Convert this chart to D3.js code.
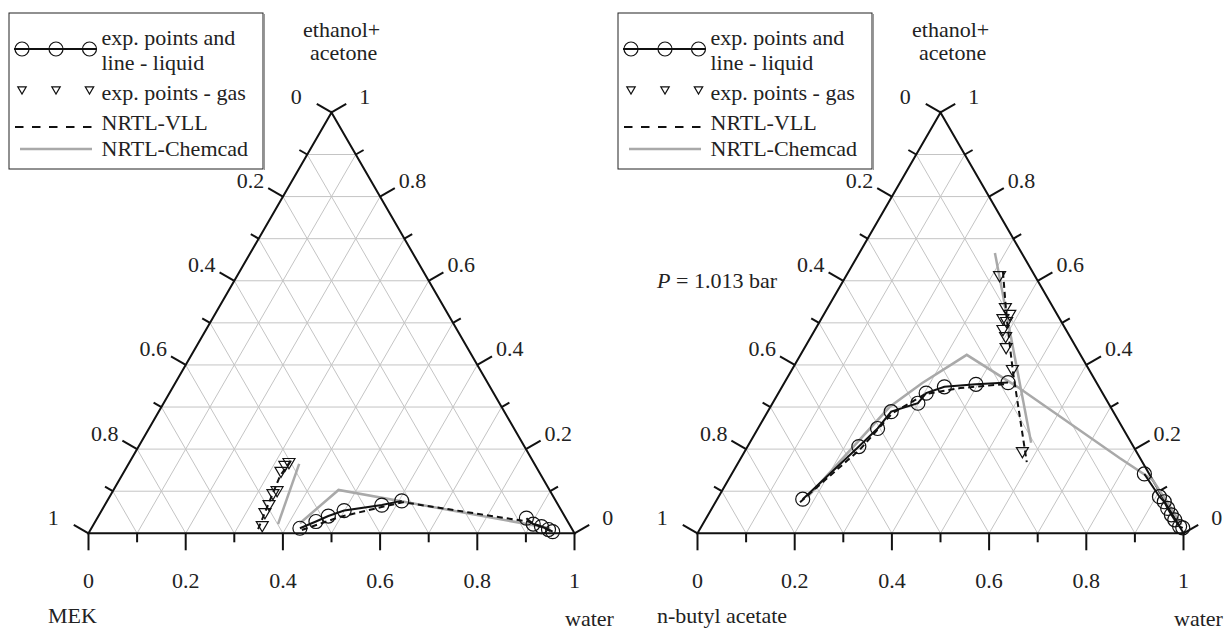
<!DOCTYPE html>
<html>
<head>
<meta charset="utf-8">
<script src="https://cdn.jsdelivr.net/npm/d3@7"></script>
<style>
  html, body { margin: 0; padding: 0; background: #fff; }
</style>
</head>
<body>
<div class="chart"></div>
<script>
// ternary data: [water, ethanol+acetone], third component = 1 - sum
const tickValues = d3.range(0, 11).map(i => i / 10);

// MEK system
const mekLiquidOrg = [[0.429, 0.012], [0.454, 0.028], [0.473, 0.041], [0.499, 0.054], [0.570, 0.067], [0.606, 0.077]];
const mekLiquidAq = [[0.883, 0.036], [0.904, 0.022], [0.924, 0.016], [0.942, 0.009], [0.953, 0.004]];
const mekGas = [[0.349, 0.017], [0.339, 0.048], [0.338, 0.067], [0.333, 0.093], [0.338, 0.100], [0.323, 0.146], [0.324, 0.160], [0.329, 0.167]];
const mekVllLiquid = [[0.435, 0.008], [0.498, 0.039], [0.574, 0.063], [0.610, 0.074], [0.895, 0.027], [0.954, 0.003]];
const mekVllGas = [[0.344, 0.010], [0.334, 0.079], [0.326, 0.136], [0.330, 0.174]];
const mekChemLiquid = [[0.423, 0.024], [0.463, 0.103], [0.944, 0.012]];
const mekChemGas = [[0.379, 0.022], [0.351, 0.165]];

// n-butyl acetate system
const nbaLiquidOrg = [[0.176, 0.081], [0.229, 0.206], [0.246, 0.249], [0.254, 0.289], [0.299, 0.309], [0.304, 0.333], [0.334, 0.348], [0.396, 0.354], [0.460, 0.358]];
const nbaLiquidAq = [[0.849, 0.141], [0.907, 0.087], [0.923, 0.075], [0.938, 0.059], [0.953, 0.044], [0.966, 0.032], [0.984, 0.016], [0.992, 0.013]];
const nbaGas = [[0.316, 0.611], [0.366, 0.535], [0.383, 0.519], [0.374, 0.509], [0.385, 0.502], [0.387, 0.483], [0.401, 0.466], [0.415, 0.440], [0.454, 0.388], [0.572, 0.193]];
const nbaVllLiquid = [[0.174, 0.074], [0.235, 0.200], [0.258, 0.285], [0.303, 0.331], [0.368, 0.345], [0.461, 0.355]];
const nbaVllGas = [[0.318, 0.621], [0.383, 0.507], [0.457, 0.384], [0.593, 0.169]];
const nbaChemLiquid = [[0.183, 0.086], [0.245, 0.300], [0.284, 0.357], [0.342, 0.424], [0.484, 0.348], [0.779, 0.179], [0.873, 0.127], [0.937, 0.067], [0.986, 0.020]];
const nbaChemGas = [[0.279, 0.666], [0.579, 0.215]];

const legendLabels = ['exp. points and', 'line - liquid', 'exp. points - gas', 'NRTL-VLL', 'NRTL-Chemcad'];

const width = 1224, height = 631;
const side = 486, tri = side * Math.sqrt(3) / 2;
const gridColor = '#c4c4c4', chemColor = '#a9a9a9';
const font = 'Liberation Serif';

const svg = d3.select('.chart').append('svg')
    .attr('width', width)
    .attr('height', height);

svg.append('rect').attr('width', width).attr('height', height).attr('fill', '#fff');

function downTriangle(r) {
    return `M${-r},${-r * 0.75}L${r},${-r * 0.75}L0,${r * 0.95}Z`;
}

function drawPanel(cfg) {
    const g = svg.append('g');
    const x = d3.scaleLinear().domain([0, 1]).range([cfg.x0, cfg.x0 + side]);
    const y = d3.scaleLinear().domain([0, 1]).range([533.3, 533.3 - tri]);
    const px = p => x(p[0] + p[1] / 2);
    const py = p => y(p[1]);
    const line = d3.line().x(px).y(py);

    // grid
    const inner = tickValues.slice(1, -1);
    const gridLines = [];
    inner.forEach(t => {
        gridLines.push([[0, t], [1 - t, t]]);
        gridLines.push([[t, 0], [t, 1 - t]]);
        gridLines.push([[1 - t, 0], [0, 1 - t]]);
    });
    g.selectAll('.grid')
        .data(gridLines)
        .enter()
        .append('path')
        .attr('d', line)
        .attr('fill', 'none')
        .attr('stroke', gridColor)
        .attr('stroke-width', 1);

    // frame
    g.append('path')
        .attr('d', line([[0, 0], [1, 0], [0, 1]]) + 'Z')
        .attr('fill', 'none')
        .attr('stroke', '#111')
        .attr('stroke-width', 2);

    // ticks: bottom (water), left (third component), right (ethanol+acetone)
    const c = Math.sqrt(3) / 2;
    const ticks = [];
    tickValues.forEach((t, i) => {
        const len = i % 2 === 0 ? 17 : 9;
        const major = i % 2 === 0;
        ticks.push({ p: [t, 0], dx: 0, dy: len, side: 'b', t, major });
        ticks.push({ p: [0, 1 - t], dx: -c * len, dy: -0.5 * len, side: 'l', t, major });
        ticks.push({ p: [1 - t, t], dx: c * len, dy: -0.5 * len, side: 'r', t, major });
    });
    g.selectAll('.tick')
        .data(ticks)
        .enter()
        .append('line')
        .attr('x1', d => px(d.p))
        .attr('y1', d => py(d.p))
        .attr('x2', d => px(d.p) + d.dx)
        .attr('y2', d => py(d.p) + d.dy)
        .attr('stroke', '#111')
        .attr('stroke-width', 2);

    const fmt = v => String(Math.round(v * 10) / 10);
    g.selectAll('.tlabel')
        .data(ticks.filter(d => d.major))
        .enter()
        .append('text')
        .style('font-family', font)
        .attr('font-size', 22)
        .attr('fill', '#222')
        .attr('text-anchor', d => d.side === 'b' ? 'middle' : (d.side === 'l' ? 'end' : 'start'))
        .attr('x', d => {
            const ex = px(d.p) + d.dx;
            const vertex = d.t === 0 || d.t === 1;
            if (d.side === 'b') return ex;
            if (d.side === 'l') return ex - (vertex ? 15 : 4);
            return ex + (vertex ? 13 : 4);
        })
        .attr('y', d => d.side === 'b' ? 588 : py(d.p) + d.dy)
        .text(d => fmt(d.t));

    // model lines
    const drawLine = (data, color, dash, w) => g.append('path')
        .attr('d', line(data))
        .attr('fill', 'none')
        .attr('stroke', color)
        .attr('stroke-width', w)
        .attr('stroke-dasharray', dash);

    drawLine(cfg.chemLiquid, chemColor, null, 2.5);
    drawLine(cfg.chemGas, chemColor, null, 2.5);
    drawLine(cfg.vllLiquid, '#111', '6,4', 2);
    drawLine(cfg.vllGas, '#111', '6,4', 2);
    drawLine(cfg.liquidOrg, '#111', null, 2);
    drawLine(cfg.liquidAq, '#111', null, 2);

    // experimental points
    g.selectAll('.liq')
        .data(cfg.liquidOrg.concat(cfg.liquidAq))
        .enter()
        .append('circle')
        .attr('cx', px)
        .attr('cy', py)
        .attr('r', 7)
        .attr('fill', 'none')
        .attr('stroke', '#111')
        .attr('stroke-width', 1.2);

    g.selectAll('.gas')
        .data(cfg.gas)
        .enter()
        .append('path')
        .attr('transform', d => `translate(${px(d)},${py(d)})`)
        .attr('d', downTriangle(6))
        .attr('fill', 'none')
        .attr('stroke', '#111')
        .attr('stroke-width', 1.2);

    // axis titles
    const dx = cfg.x0 - 88.5;
    const title = (tx, ty, s) => g.append('text').attr('x', tx).attr('y', ty)
        .style('font-family', font)
        .attr('font-size', 22).attr('fill', '#222').text(s);
    title(303 + dx, 37, 'ethanol+');
    title(310 + dx, 60, 'acetone');
    title(cfg.titleX, 623, cfg.third);
    title(565 + dx, 626, 'water');

    // legend
    const lg = g.append('g').attr('transform', `translate(${9 + dx},13)`);
    lg.append('rect')
        .attr('width', 254).attr('height', 156)
        .attr('fill', '#fff').attr('stroke', '#222').attr('stroke-width', 1);
    lg.append('line').attr('x1', 255.5).attr('x2', 255.5).attr('y1', 1).attr('y2', 157)
        .attr('stroke', '#999').attr('stroke-width', 1);
    lg.append('line').attr('x1', 5).attr('x2', 88).attr('y1', 36).attr('y2', 36)
        .attr('stroke', '#111').attr('stroke-width', 2);
    lg.selectAll('.lc').data([13, 47, 80.5]).enter().append('circle')
        .attr('cx', d => d).attr('cy', 36).attr('r', 7)
        .attr('fill', 'none').attr('stroke', '#111').attr('stroke-width', 1.2);
    lg.selectAll('.lt').data([13, 47, 80.5]).enter().append('path')
        .attr('transform', d => `translate(${d},77)`)
        .attr('d', downTriangle(4.2))
        .attr('fill', 'none').attr('stroke', '#111').attr('stroke-width', 1.2);
    lg.append('line').attr('x1', 6).attr('x2', 83).attr('y1', 114).attr('y2', 114)
        .attr('stroke', '#111').attr('stroke-width', 2).attr('stroke-dasharray', '8.5,8.5');
    lg.append('line').attr('x1', 11).attr('x2', 83).attr('y1', 136).attr('y2', 136)
        .attr('stroke', chemColor).attr('stroke-width', 2.5);
    const rows = [32, 57, 87, 117, 143];
    lg.selectAll('.ltext').data(legendLabels).enter().append('text')
        .style('font-family', font)
        .attr('x', 92.5)
        .attr('y', (d, i) => rows[i])
        .attr('font-size', 22)
        .attr('fill', '#222')
        .text(d => d);

    if (cfg.pressure) {
        const pt = g.append('text').attr('x', 777).attr('y', 288)
            .style('font-family', font)
            .attr('font-size', 22).attr('fill', '#222').attr('text-anchor', 'end');
        pt.append('tspan').attr('font-style', 'italic').text('P');
        pt.append('tspan').text(' = 1.013 bar');
    }
}

drawPanel({
    x0: 88.5, third: 'MEK', titleX: 48,
    liquidOrg: mekLiquidOrg, liquidAq: mekLiquidAq, gas: mekGas,
    vllLiquid: mekVllLiquid, vllGas: mekVllGas,
    chemLiquid: mekChemLiquid, chemGas: mekChemGas
});

drawPanel({
    x0: 697.5, third: 'n-butyl acetate', titleX: 657, pressure: true,
    liquidOrg: nbaLiquidOrg, liquidAq: nbaLiquidAq, gas: nbaGas,
    vllLiquid: nbaVllLiquid, vllGas: nbaVllGas,
    chemLiquid: nbaChemLiquid, chemGas: nbaChemGas
});
</script>
</body>
</html>
